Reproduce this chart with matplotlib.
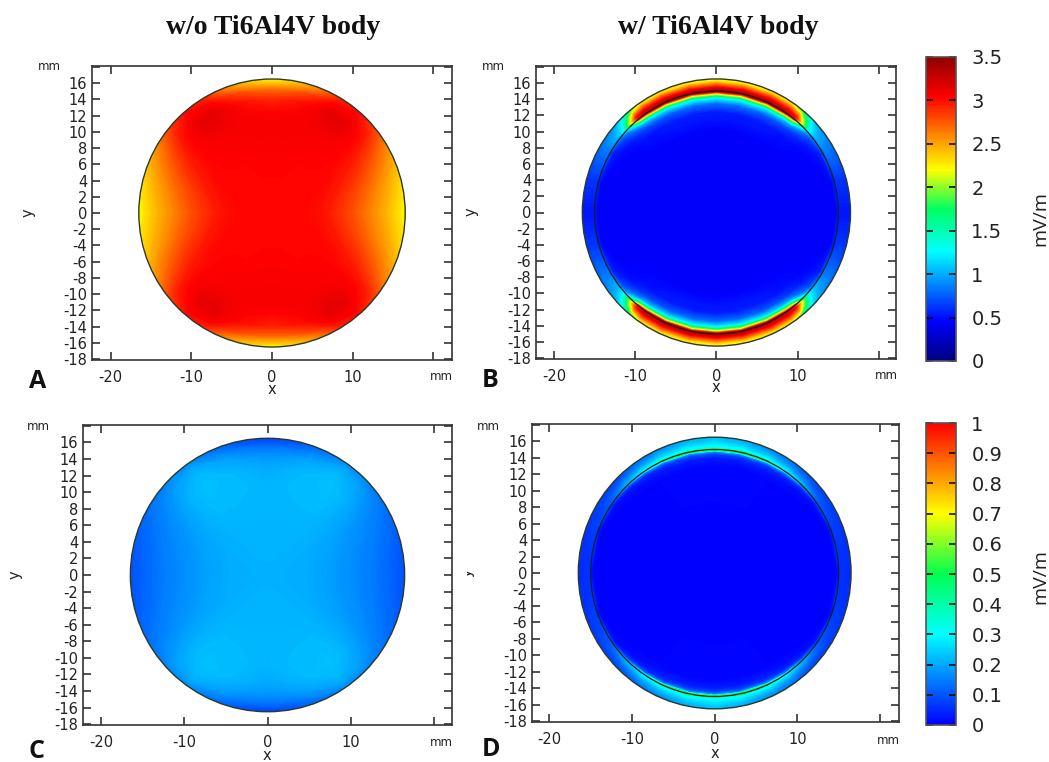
import numpy as np
import matplotlib
matplotlib.use("Agg")
import matplotlib.pyplot as plt
from matplotlib.colors import LinearSegmentedColormap, Normalize
from matplotlib.cm import ScalarMappable
from matplotlib.patches import Circle

W, H = 1049, 762
plt.rcParams['axes.unicode_minus'] = False

# polar readings for one quadrant: rows = radius, columns = angle from +x
r_a = [0, 4, 6.5, 8, 10, 12, 14, 15.2, 16, 16.5]
th_a = [0, 15, 30, 40, 50, 60, 75, 90]
val_a = [
    [3.03, 3.03, 3.03, 3.03, 3.03, 3.03, 3.03, 3.03],
    [3.03, 3.03, 3.03, 3.03, 3.03, 3.03, 3.03, 3.03],
    [2.98, 3.00, 3.03, 3.03, 3.03, 3.03, 3.04, 3.04],
    [2.90, 2.95, 3.02, 3.03, 3.04, 3.04, 3.05, 3.06],
    [2.78, 2.85, 2.98, 3.03, 3.05, 3.05, 3.07, 3.08],
    [2.62, 2.72, 2.92, 3.03, 3.08, 3.09, 3.07, 3.06],
    [2.46, 2.56, 2.80, 3.00, 3.13, 3.14, 3.00, 2.92],
    [2.35, 2.46, 2.70, 2.95, 3.08, 3.08, 2.80, 2.68],
    [2.26, 2.38, 2.62, 2.88, 3.04, 2.95, 2.55, 2.38],
    [2.18, 2.30, 2.55, 2.85, 3.00, 2.80, 2.30, 2.00],
]

r_b = [0, 10, 12.5, 13.5, 14.2, 14.7, 15.0, 15.3, 15.8, 16.2, 16.5]
th_b = [0, 15, 30, 38, 42, 46, 50, 55, 65, 78, 90]
val_b = [
    [.45] * 11,
    [.45] * 11,
    [.45, .45, .45, .47, .48, .50, .50, .52, .55, .55, .55],
    [.45, .45, .47, .50, .55, .60, .65, .70, .75, .80, .80],
    [.45, .45, .50, .60, .70, .80, 1.0, 1.1, 1.2, 1.25, 1.25],
    [.45, .47, .55, .70, .85, 1.2, 1.8, 2.0, 2.1, 2.15, 2.2],
    [.50, .55, .70, .90, 1.1, 1.7, 2.8, 3.2, 3.35, 3.35, 3.35],
    [.52, .62, .85, 1.05, 1.3, 2.1, 3.0, 3.2, 3.2, 3.2, 3.2],
    [.52, .62, .85, 1.0, 1.2, 1.75, 2.5, 2.75, 2.75, 2.7, 2.7],
    [.52, .62, .82, .95, 1.1, 1.45, 2.0, 2.35, 2.35, 2.3, 2.3],
    [.52, .62, .78, .90, 1.05, 1.3, 1.7, 2.0, 2.05, 2.0, 1.95],
]

r_c = [0, 5, 8, 11, 13, 14.5, 15.5, 16.2, 16.5]
th_c = [0, 15, 30, 45, 55, 70, 90]
val_c = [
    [.210, .210, .210, .210, .210, .210, .210],
    [.203, .204, .206, .210, .211, .212, .212],
    [.185, .188, .197, .210, .214, .215, .215],
    [.160, .165, .182, .213, .223, .220, .213],
    [.140, .148, .168, .212, .230, .218, .200],
    [.122, .130, .155, .200, .220, .198, .172],
    [.110, .118, .145, .188, .205, .165, .135],
    [.100, .110, .135, .170, .178, .130, .090],
    [.092, .100, .130, .160, .160, .110, .060],
]

r_d = [0, 13, 14, 14.5, 14.8, 15, 15.2, 15.6, 16.1, 16.5]
th_d = [0, 20, 35, 45, 55, 65, 78, 90]
val_d = [
    [0, 0, 0, 0, 0, 0, 0, 0],
    [0, 0, 0, 0, .002, .005, .005, .005],
    [0, 0, .003, .01, .02, .03, .03, .03],
    [0, .002, .01, .03, .05, .07, .08, .08],
    [.005, .01, .03, .08, .13, .16, .18, .18],
    [.02, .03, .08, .18, .30, .45, .55, .55],
    [.055, .07, .11, .20, .27, .30, .32, .32],
    [.055, .07, .10, .15, .20, .24, .27, .28],
    [.05, .065, .08, .10, .15, .18, .22, .24],
    [.05, .06, .07, .08, .11, .14, .18, .20],
]

xticks = [-20, -10, 0, 10, 20]
yticks = list(range(-18, 20, 2))
ticks_top = [0, 0.5, 1, 1.5, 2, 2.5, 3, 3.5]
labels_top = ['0', '0.5', '1', '1.5', '2', '2.5', '3', '3.5']
ticks_bot = [0, .1, .2, .3, .4, .5, .6, .7, .8, .9, 1]
labels_bot = ['0', '0.1', '0.2', '0.3', '0.4', '0.5', '0.6', '0.7', '0.8', '0.9', '1']

cmap_top = LinearSegmentedColormap.from_list('top', [
    (0, '#00007f'), (0.13, '#0000ff'), (0.36, '#00ffff'), (0.5, '#00ff60'),
    (0.63, '#ffff00'), (0.87, '#ff0000'), (1, '#900000')])
cmap_bot = LinearSegmentedColormap.from_list('bot', [
    (0, '#0000ff'), (0.3, '#00ffff'), (0.5, '#00ff50'),
    (0.7, '#ffff00'), (1, '#ff0000')])

fig = plt.figure(figsize=(W / 100, H / 100), dpi=100)


def box(left, top, right, bottom):
    return fig.add_axes([left / W, 1 - bottom / H, (right - left) / W, (bottom - top) / H])


def ftext(px, py, s, **kw):
    kw.setdefault('ha', 'center')
    kw.setdefault('va', 'center')
    return fig.text(px / W, 1 - py / H, s, **kw)


def panel(pos, r, th, val, cmap, vmax, ring, xlim, ylim):
    ax = box(*pos)
    # mirror the quadrant round the whole circle
    th = np.array(th, dtype=float)
    val = np.array(val, dtype=float)
    th_full = np.concatenate([th, 180 - th[::-1][1:], 180 + th[1:], 360 - th[::-1][1:]])
    val_full = np.hstack([val, val[:, ::-1][:, 1:], val[:, 1:], val[:, ::-1][:, 1:]])
    rr = np.array(r, dtype=float)
    rr[-1] = rr[-1] * 1.03  # clip circle trims this back
    R, T = np.meshgrid(rr, np.radians(th_full), indexing='ij')
    levels = np.linspace(0, vmax, 300)
    cs = ax.contourf(R * np.cos(T), R * np.sin(T), val_full, levels=levels,
                     cmap=cmap, norm=Normalize(0, vmax), extend='both', antialiased=False)
    outer = Circle((0, 0), r[-1], fc='none', ec='#2a3a2a', lw=1.0, zorder=4)
    ax.add_patch(outer)
    cs.set_clip_path(outer)
    if ring:
        ax.add_patch(Circle((0, 0), ring, fc='none', ec='#10201a', lw=0.9, zorder=4))
    ax.set_xlim(*xlim)
    ax.set_ylim(*ylim)
    ax.set_xticks(xticks)
    ax.set_xticklabels([str(v) if v < 20 else '' for v in xticks])
    ax.set_yticks(yticks)
    ax.set_yticklabels([str(v) if v < 18 else '' for v in yticks])
    ax.tick_params(direction='in', top=True, right=True, length=6, width=1.1,
                   color='#222222', labelsize=10.5, labelcolor='#222222')
    ax.tick_params(axis='x', pad=7)
    ax.tick_params(axis='y', pad=3.5)
    for s in ax.spines.values():
        s.set_linewidth(1.2)
        s.set_color('#333333')
    return ax


panel((92, 66, 452, 360), r_a, th_a, val_a, cmap_top, 3.5, None, (-22.3, 22.3), (-18.1, 18.1))
panel((536, 66, 896, 359), r_b, th_b, val_b, cmap_top, 3.5, 15, (-22.2, 22.1), (-18.1, 18.1))
panel((83, 425, 452, 725), r_c, th_c, val_c, cmap_bot, 1, None, (-22.2, 22.2), (-18.1, 18.1))
panel((532, 424, 899, 722), r_d, th_d, val_d, cmap_bot, 1, 15, (-22.1, 22.3), (-18.1, 18.1))


def cbar(pos, cmap, vmax, ticks, labels):
    cax = box(*pos)
    cb = fig.colorbar(ScalarMappable(Normalize(0, vmax), cmap), cax=cax)
    cb.set_ticks(ticks)
    cb.set_ticklabels(labels)
    cax.tick_params(direction='in', left=True, right=True, length=5, width=1.1,
                    color='black', labelsize=14, labelcolor='#222222', pad=11)
    cb.outline.set_edgecolor('#555555')
    cb.outline.set_linewidth(1.2)


cbar((926, 57, 956, 361), cmap_top, 3.5, ticks_top, labels_top)
cbar((926, 423, 956, 725), cmap_bot, 1, ticks_bot, labels_bot)

# titles
serif = ['Liberation Serif']
ftext(273, 27, 'w/o Ti6Al4V body', family=serif, fontweight='bold', fontsize=20, color='#111111')
ftext(718, 28, 'w/ Ti6Al4V body', family=serif, fontweight='bold', fontsize=20, color='#111111')

# unit and axis names
for px, py in [(49, 67), (493, 66), (38, 426), (488, 426),
               (441, 377), (886, 376), (441, 743), (888, 740)]:
    ftext(px, py, 'mm', fontsize=8.5, color='#222222')
for px, py in [(272, 389), (716, 388), (267, 755), (715, 753)]:
    ftext(px, py, 'x', fontsize=10.5, color='#222222')
for px, py in [(28, 213), (471, 212), (15, 575)]:
    ftext(px, py, 'y', fontsize=10.5, rotation=90, color='#222222')
clipped_y = ftext(467, 573, 'y', fontsize=10.5, rotation=90, color='#222222')
clipped_y.set_clip_box(matplotlib.transforms.Bbox([[467, H - 590], [480, H - 560]]))
clipped_y.set_clip_on(True)

for py, label in [(218, 'mV/m'), (577, 'mV/m')]:
    ftext(1040, py, label, family=['Open Sans'], fontsize=14, rotation=90, color='#222222')

# panel letters
for px, py, letter in [(38, 381, 'A'), (490, 380, 'B'), (37, 751, 'C'), (491, 750, 'D')]:
    ftext(px, py, letter, family=['Open Sans'], fontweight='bold', fontsize=18, color='#111111')

fig.savefig('out.png', dpi=100, facecolor='white')
